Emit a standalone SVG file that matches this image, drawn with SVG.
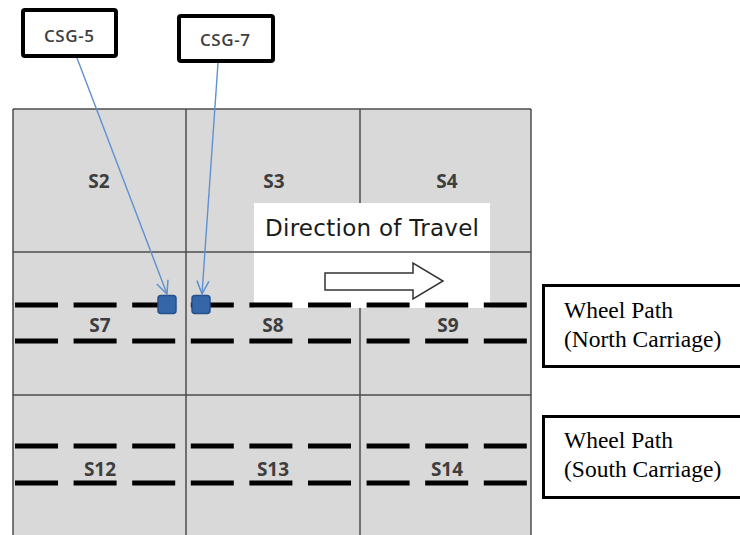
<svg xmlns="http://www.w3.org/2000/svg" width="740" height="535" viewBox="0 0 740 535">
<defs>
<marker id="chev" viewBox="-14 -8 16 16" refX="0" refY="0" markerWidth="16" markerHeight="16" markerUnits="userSpaceOnUse" orient="auto">
<path d="M-13,-6 L0,0 L-13,6" fill="none" stroke="#5f90d0" stroke-width="1.5"/>
</marker>
<style>
.cell{fill:#d9d9d9}
.grid{stroke:#4d4d4d;stroke-width:1.5;fill:none}
.dash{stroke:#000;stroke-width:5;stroke-dasharray:43 15.6}
.lbl{font-family:"Open Sans","Liberation Sans",sans-serif;font-size:19px;font-weight:700;fill:#3e3e3e;text-anchor:middle}
.csg{font-family:"Open Sans","Liberation Sans",sans-serif;font-size:17px;font-weight:600;fill:#3e3e3e;text-anchor:middle}
.box{fill:#fff;stroke:#000;stroke-width:4}
.wp{fill:#fff;stroke:#000;stroke-width:3}
.wpt{font-family:"Liberation Serif","Times New Roman",serif;font-size:23.5px;fill:#000}
.conn{stroke:#5f90d0;stroke-width:1.4;fill:none}
.gauge{fill:#3567a8;stroke:#24508c;stroke-width:1.5}
</style>
</defs>
<rect width="740" height="535" fill="#fff"/>
<g id="grid">
<rect class="cell" x="13" y="109" width="518" height="430"/>
<rect x="254" y="203" width="236" height="105" fill="#fff"/>
<line class="grid" x1="13" y1="109" x2="531" y2="109"/>
<line class="grid" x1="13" y1="252" x2="531" y2="252"/>
<line class="grid" x1="13" y1="395" x2="531" y2="395"/>
<line class="grid" x1="13" y1="109" x2="13" y2="535"/>
<line class="grid" x1="186" y1="109" x2="186" y2="535"/>
<line class="grid" x1="360" y1="109" x2="360" y2="203"/>
<line class="grid" x1="360" y1="308" x2="360" y2="535"/>
<line class="grid" x1="531" y1="109" x2="531" y2="535"/>
</g>
<g id="direction">
<text x="265" y="236" font-family="DejaVu Sans,sans-serif" font-size="23" fill="#1a1a1a" textLength="214">Direction of Travel</text>
<polygon points="325,273 413,273 413,263 443,281 413,299 413,290 325,290" fill="#fff" stroke="#333" stroke-width="1.5"/>
</g>
<g id="wheelpaths">
<line class="dash" x1="15" y1="305" x2="527" y2="305"/>
<line class="dash" x1="15" y1="341" x2="527" y2="341"/>
<line class="dash" x1="15" y1="446" x2="527" y2="446"/>
<line class="dash" x1="15" y1="483" x2="527" y2="483"/>
</g>
<g id="labels">
<text class="lbl" x="99" y="188">S2</text>
<text class="lbl" x="274" y="188">S3</text>
<text class="lbl" x="447" y="188">S4</text>
<text class="lbl" x="100" y="332">S7</text>
<text class="lbl" x="273" y="332">S8</text>
<text class="lbl" x="448" y="332">S9</text>
<text class="lbl" x="100" y="476">S12</text>
<text class="lbl" x="273" y="476">S13</text>
<text class="lbl" x="447" y="476">S14</text>
</g>
<g id="gauges">
<rect id="g5" class="gauge" x="158" y="295.5" width="18" height="18" rx="3"/>
<rect id="g7" class="gauge" x="192" y="295.5" width="18" height="18" rx="3"/>
</g>
<g id="csg5">
<rect class="box" x="23" y="10" width="93" height="46" rx="2"/>
<text class="csg" x="69" y="42" textLength="50">CSG-5</text>
</g>
<g id="csg7">
<rect class="box" x="179" y="16" width="94" height="45" rx="2"/>
<text class="csg" x="225" y="46" textLength="50">CSG-7</text>
</g>
<g id="connectors">
<line class="conn" x1="77" y1="58" x2="167" y2="294" marker-end="url(#chev)"/>
<line class="conn" x1="218" y1="63" x2="202" y2="294" marker-end="url(#chev)"/>
</g>
<g id="wp-north">
<rect class="wp" x="543.5" y="285.5" width="210" height="81"/>
<text class="wpt" x="564" y="318">Wheel Path</text>
<text class="wpt" x="564" y="347">(North Carriage)</text>
</g>
<g id="wp-south">
<rect class="wp" x="543.5" y="416.5" width="210" height="81"/>
<text class="wpt" x="564" y="448">Wheel Path</text>
<text class="wpt" x="564" y="477">(South Carriage)</text>
</g>
</svg>
